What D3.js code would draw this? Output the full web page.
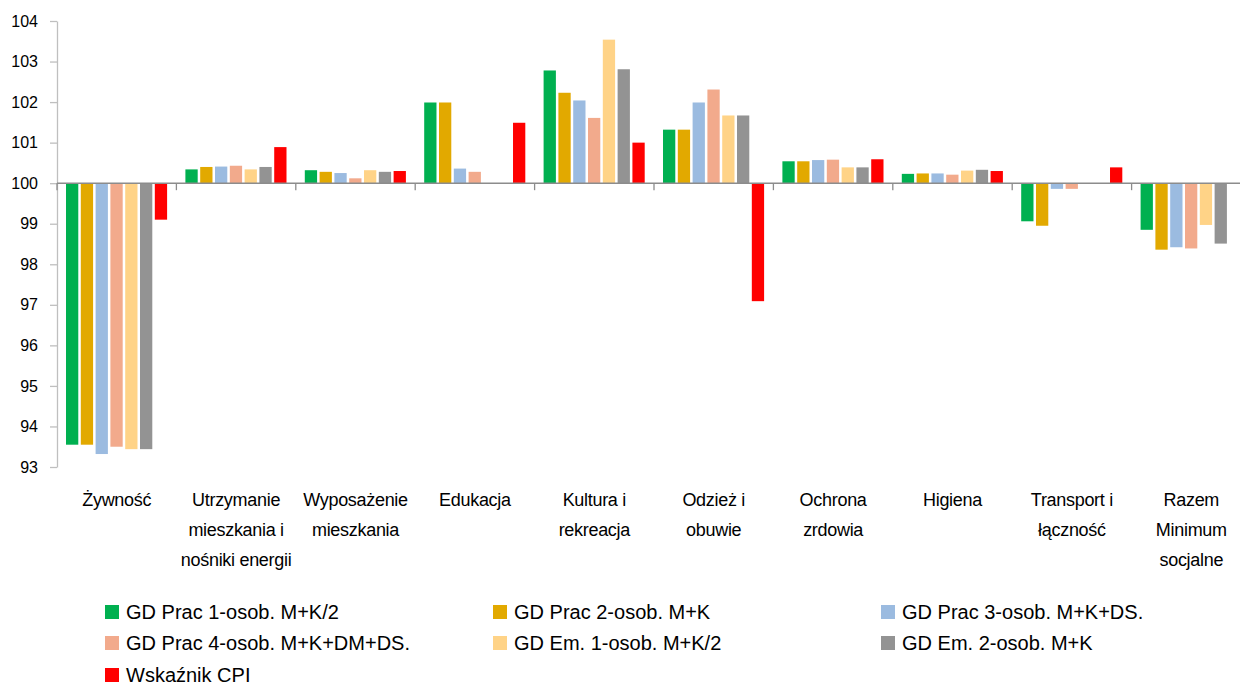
<!doctype html>
<html>
<head>
    <meta charset="utf-8">
    <script src="https://d3js.org/d3.v7.min.js"></script>
    <style>
      body { margin: 0; background: #fff; }
      text { font-family: "Liberation Sans", Arial, sans-serif; fill: #000; }
    </style>
</head>
<body>
    <svg id="chart" width="1240" height="686"></svg>
    <script>
        // Categories (label lines)
        const categories = [
          ["Żywność"],
          ["Utrzymanie", "mieszkania i", "nośniki energii"],
          ["Wyposażenie", "mieszkania"],
          ["Edukacja"],
          ["Kultura i", "rekreacja"],
          ["Odzież i", "obuwie"],
          ["Ochrona", "zrdowia"],
          ["Higiena"],
          ["Transport i", "łączność"],
          ["Razem", "Minimum", "socjalne"]
        ];

        const seriesNames = [
          "GD Prac 1-osob. M+K/2",
          "GD Prac 2-osob. M+K",
          "GD Prac 3-osob. M+K+DS.",
          "GD Prac 4-osob. M+K+DM+DS.",
          "GD Em. 1-osob. M+K/2",
          "GD Em. 2-osob. M+K",
          "Wskaźnik CPI"
        ];

        const colors = ["#00b050", "#e2a900", "#9bbbe0", "#f2aa8c", "#ffd387", "#939393", "#ff0000"];

        // Values per series, one per category (null = no bar)
        const prac1 = [93.55, 100.34, 100.32, 101.99, 102.78, 101.32, 100.54, 100.23, 99.06, 98.85];
        const prac2 = [93.55, 100.40, 100.28, 101.99, 102.23, 101.32, 100.54, 100.24, 98.95, 98.36];
        const prac3 = [93.32, 100.41, 100.25, 100.36, 102.04, 101.99, 100.57, 100.24, 99.86, 98.42];
        const prac4 = [93.50, 100.43, 100.12, 100.28, 101.61, 102.31, 100.58, 100.21, 99.86, 98.39];
        const em1   = [93.44, 100.34, 100.32, null, 103.54, 101.67, 100.39, 100.31, null, 98.97];
        const em2   = [93.44, 100.40, 100.28, null, 102.81, 101.67, 100.39, 100.33, null, 98.51];
        const cpi   = [99.10, 100.89, 100.30, 101.49, 101.00, 97.09, 100.59, 100.30, 100.39, null];

        const seriesValues = [prac1, prac2, prac3, prac4, em1, em2, cpi];
        const yTicks = [93, 94, 95, 96, 97, 98, 99, 100, 101, 102, 103, 104];

        const svg = d3.select("#chart");
        const plotLeft = 57, plotRight = 1251, plotTop = 21, plotBottom = 467;

        const x0 = d3.scaleBand()
          .domain(d3.range(categories.length))
          .range([plotLeft, plotRight]);

        const x1 = d3.scaleBand()
          .domain(d3.range(seriesNames.length))
          .range([9, x0.bandwidth() - 9.3])
          .paddingInner(0.17);

        const y = d3.scaleLinear()
          .domain([93, 104])
          .range([plotBottom, plotTop]);

        // Y axis
        const yAxis = svg.append("g")
          .attr("transform", `translate(${plotLeft},0)`)
          .call(d3.axisLeft(y).tickValues(yTicks).tickSize(7).tickPadding(12).tickSizeOuter(0));
        yAxis.select(".domain").attr("stroke", "#bfbfbf").attr("stroke-width", 1.3);
        yAxis.selectAll(".tick line").attr("stroke", "#bfbfbf").attr("stroke-width", 1.3);
        yAxis.selectAll(".tick text")
          .attr("font-size", 16)
          .attr("font-family", "Liberation Sans, Arial, sans-serif")
          .attr("fill", "#000");

        // Bars
        const groups = svg.append("g").selectAll("g")
          .data(categories)
          .join("g")
          .attr("transform", (d, i) => `translate(${x0(i)},0)`);

        groups.selectAll("rect")
          .data((d, i) => seriesValues.map((s, k) => ({ k: k, v: s[i] })).filter(e => e.v !== null))
          .join("rect")
          .attr("x", e => x1(e.k))
          .attr("width", x1.bandwidth())
          .attr("y", e => y(Math.max(e.v, 100)))
          .attr("height", e => Math.abs(y(e.v) - y(100)))
          .attr("fill", e => colors[e.k]);

        // Baseline at 100 with category ticks
        const xAxis = svg.append("g")
          .attr("transform", `translate(0,${y(100)})`);
        xAxis.append("line")
          .attr("x1", plotLeft).attr("x2", 1240)
          .attr("stroke", "#8c8c8c").attr("stroke-width", 1.5);
        xAxis.selectAll("line.tk")
          .data(d3.range(categories.length + 1))
          .join("line")
          .attr("class", "tk")
          .attr("x1", i => i < categories.length ? x0(i) : plotRight)
          .attr("x2", i => i < categories.length ? x0(i) : plotRight)
          .attr("y1", 0).attr("y2", 7)
          .attr("stroke", "#8c8c8c").attr("stroke-width", 1.3);

        // Category labels
        const labels = svg.append("g").selectAll("text")
          .data(categories)
          .join("text")
          .attr("text-anchor", "middle")
          .attr("font-size", 18)
          .attr("letter-spacing", -0.3)
          .attr("x", (d, i) => x0(i) + x0.bandwidth() / 2)
          .attr("y", 506);
        labels.selectAll("tspan")
          .data(d => d)
          .join("tspan")
          .attr("x", function () { return this.parentNode.getAttribute("x"); })
          .attr("dy", (d, j) => j === 0 ? 0 : 30)
          .text(d => d);

        // Legend
        const legendCols = [105, 493, 881];
        const legendRows = [612, 643, 675];
        const legend = svg.append("g").selectAll("g")
          .data(seriesNames)
          .join("g")
          .attr("transform", (d, i) => `translate(${legendCols[i % 3]},${legendRows[Math.floor(i / 3)]})`);
        legend.append("rect")
          .attr("x", 0).attr("y", -7)
          .attr("width", 14).attr("height", 14)
          .attr("fill", (d, i) => colors[i]);
        legend.append("text")
          .attr("x", 21)
          .attr("y", 7)
          .attr("font-size", 20)
          .text(d => d);
    </script>
</body>
</html>
